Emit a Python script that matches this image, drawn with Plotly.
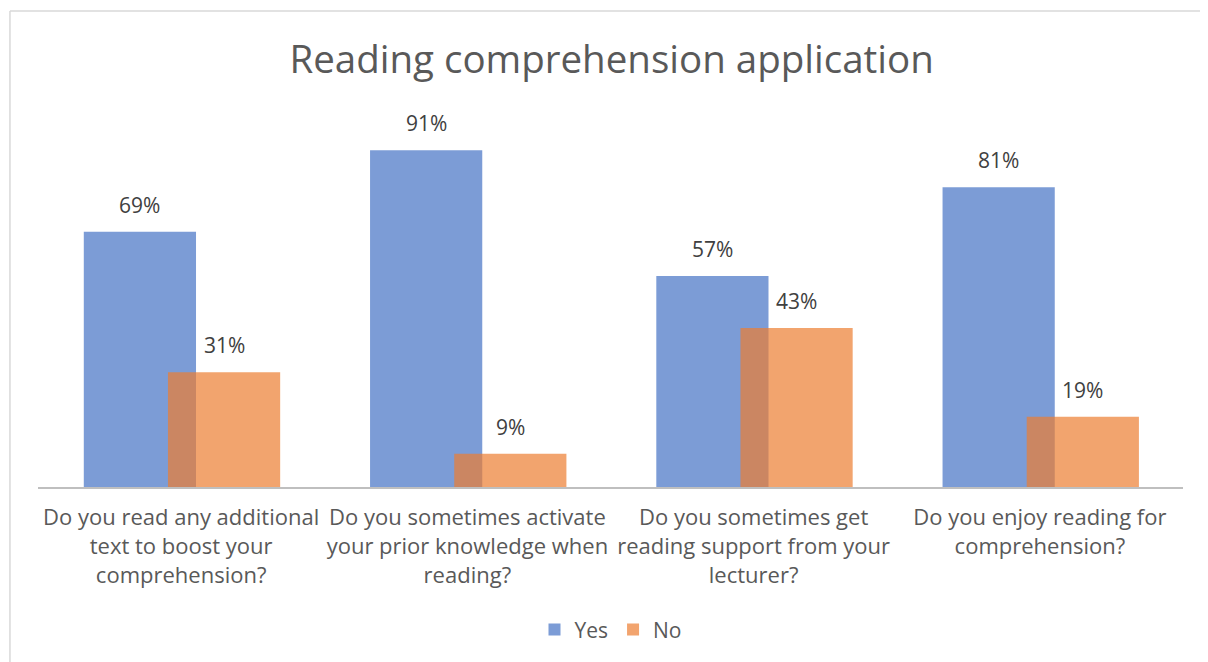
import plotly.graph_objects as go

questions = [
    "Do you read any additional<br>text to boost your<br>comprehension?",
    "Do you sometimes activate<br>your prior knowledge when<br>reading?",
    "Do you sometimes get<br>reading support from your<br>lecturer?",
    "Do you enjoy reading for<br>comprehension?",
]
yes_pct = [69, 91, 57, 81]
no_pct = [31, 9, 43, 19]

pos = list(range(len(questions)))
bar_w = 0.392
yes_off = -0.34
no_off = -0.046

fig = go.Figure()

fig.add_trace(
    go.Bar(
        x=pos, y=yes_pct, name="Yes", width=bar_w, offset=yes_off,
        marker_color="rgba(68,114,196,0.7)", marker_line_width=0,
    )
)
fig.add_trace(
    go.Bar(
        x=pos, y=no_pct, name="No", width=bar_w, offset=no_off,
        marker_color="rgba(237,125,49,0.7)", marker_line_width=0,
    )
)

# value labels above each bar
for i in pos:
    for val, off in ((yes_pct[i], yes_off), (no_pct[i], no_off)):
        fig.add_annotation(
            x=i + off + bar_w / 2, y=val, text=f"{val}%",
            showarrow=False, yanchor="bottom", yshift=11,
            font=dict(size=21, color="#404040"),
        )

# chart border (left and top edges visible)
fig.add_shape(type="line", xref="paper", yref="paper",
              x0=-0.0245, x1=-0.0245, y0=1.2865, y1=-0.48,
              line=dict(color="#D9D9D9", width=1.5))
fig.add_shape(type="line", xref="paper", yref="paper",
              x0=-0.0245, x1=1.03, y0=1.2865, y1=1.2865,
              line=dict(color="#D9D9D9", width=1.5))

# page adds an 8px body margin, so the figure is 8px smaller each way
fig.update_layout(
    barmode="overlay",
    width=1200,
    height=654,
    margin=dict(l=30, r=25, t=109, b=175),
    paper_bgcolor="white",
    plot_bgcolor="white",
    font=dict(family="Open Sans", color="#595959"),
    title=dict(
        text="Reading comprehension application",
        x=0.503, xanchor="center", y=0.9205, yanchor="middle",
        font=dict(size=38.5, color="#595959"),
    ),
    xaxis=dict(
        range=[-0.5, 3.5], tickvals=pos, ticktext=questions,
        showline=True, linecolor="#BFBFBF", linewidth=2,
        showgrid=False, ticks="", tickfont=dict(size=22, color="#595959"),
        ticklabelstandoff=10, zeroline=False,
    ),
    yaxis=dict(range=[0, 100], visible=False),
    legend=dict(
        orientation="h", x=0.5, xanchor="center", y=-0.386, yanchor="middle",
        font=dict(size=21, color="#595959"), traceorder="normal",
        itemwidth=30,
    ),
    showlegend=True,
)

fig.write_html("out.html")
